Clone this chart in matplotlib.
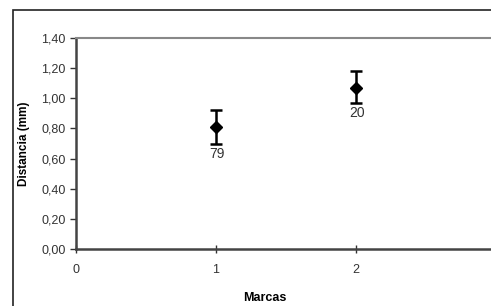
import matplotlib
matplotlib.use("Agg")
import matplotlib.pyplot as plt
from matplotlib.patches import Rectangle
from matplotlib.ticker import FuncFormatter, MultipleLocator

marcas = [1, 2]
distancia = [0.81, 1.07]
err_up = [0.11, 0.11]
err_down = [0.11, 0.10]
etiquetas = ["79", "20"]
xticks = [0, 1, 2]

plt.rcParams["font.family"] = ["Liberation Sans", "DejaVu Sans"]

fig = plt.figure(figsize=(4.91, 3.06), dpi=100)
# outer chart border (cut off at right and bottom like the original)
fig.patches.append(Rectangle((13 / 491, -0.1), 1.2, 1 - 10 / 306 + 0.1,
                             transform=fig.transFigure, fill=False,
                             edgecolor="#222222", lw=1.2))

ax = fig.add_axes([76 / 491, 1 - 249 / 306, 420 / 491, 211 / 306])
ax.errorbar(marcas, distancia, yerr=[err_down, err_up], fmt="D", color="black",
            ms=6, capsize=4, elinewidth=1.8, capthick=1.8)
for i, (x, y, t) in enumerate(zip(marcas, distancia, etiquetas)):
    ax.text(x + 0.01, y - err_down[i] - 0.02, t, ha="center",
            va="top", fontsize=10, color="#333333")

ax.set_xlim(0, 3)
ax.set_ylim(0, 1.4)
ax.set_xticks(xticks)
ax.yaxis.set_major_locator(MultipleLocator(0.2))
ax.yaxis.set_major_formatter(FuncFormatter(lambda v, p: f"{v:.2f}".replace(".", ",")))
ax.tick_params(axis="y", direction="out", length=4, width=1, labelsize=9, colors="#333333")
ax.tick_params(axis="x", direction="inout", length=6, width=1, labelsize=9,
               colors="#333333", pad=8)

for s in ["left", "bottom"]:
    ax.spines[s].set_color("#444444")
    ax.spines[s].set_linewidth(1.8)
ax.spines["top"].set_color("#888888")
ax.spines["top"].set_linewidth(1.5)
ax.spines["right"].set_visible(False)

ax.set_ylabel("Distancia (mm)", fontsize=8.5, fontweight="bold", labelpad=8)
fig.text(265 / 491, 1 - 298 / 306, "Marcas", ha="center", va="center",
         fontsize=9, fontweight="bold")

fig.savefig("out.png", dpi=100)
